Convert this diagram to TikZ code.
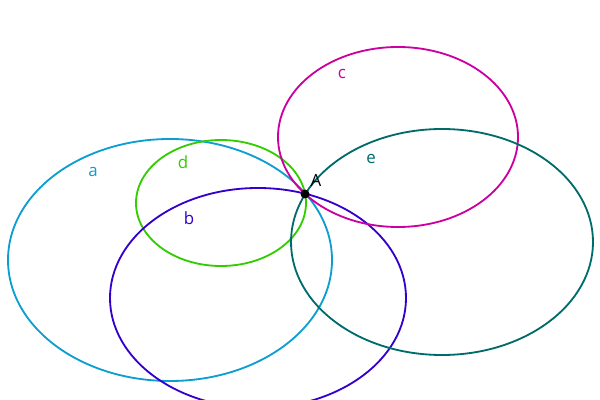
\documentclass[tikz,border=0pt]{standalone}
\usepackage{fontspec}
\setmainfont{Open Sans}
\definecolor{colA}{RGB}{12,158,209}
\definecolor{colB}{RGB}{51,0,204}
\definecolor{colC}{RGB}{204,0,160}
\definecolor{colD}{RGB}{51,204,0}
\definecolor{colE}{RGB}{0,107,107}
\tikzset{curve/.style={line width=1.3pt}, lbl/.style={font=\fontsize{12}{14}\selectfont}}

\begin{document}
\begin{tikzpicture}[x=0.025cm, y=-0.025cm]
			%%%%% START %%%%%
			\useasboundingbox (0, 0) rectangle (600, 400);
			\begin{scope}
			\clip (0, 0) rectangle (600, 400);
			
			\draw[curve, colA] (170, 260) ellipse (162 and 121);
			\draw[curve, colD] (221, 203) ellipse (85 and 63);
			\draw[curve, colB] (258, 298) ellipse (148 and 110);
			\draw[curve, colC] (398, 137) ellipse (120 and 90);
			\draw[curve, colE] (442, 242) ellipse (151 and 113);
			\end{scope}
			
			\node[lbl, colA] (la) at (93, 172) {a};
			\node[lbl, colD] (ld) at (183, 162) {d};
			\node[lbl, colB] (lb) at (189, 218) {b};
			\node[lbl, colC] (lc) at (342, 74) {c};
			\node[lbl, colE] (le) at (371, 159) {e};
			
			\fill (305, 194) circle (4.5);
			\node[lbl] (lA) at (316, 180) {A};
			%%%%% END %%%%%
\end{tikzpicture}
\end{document}
